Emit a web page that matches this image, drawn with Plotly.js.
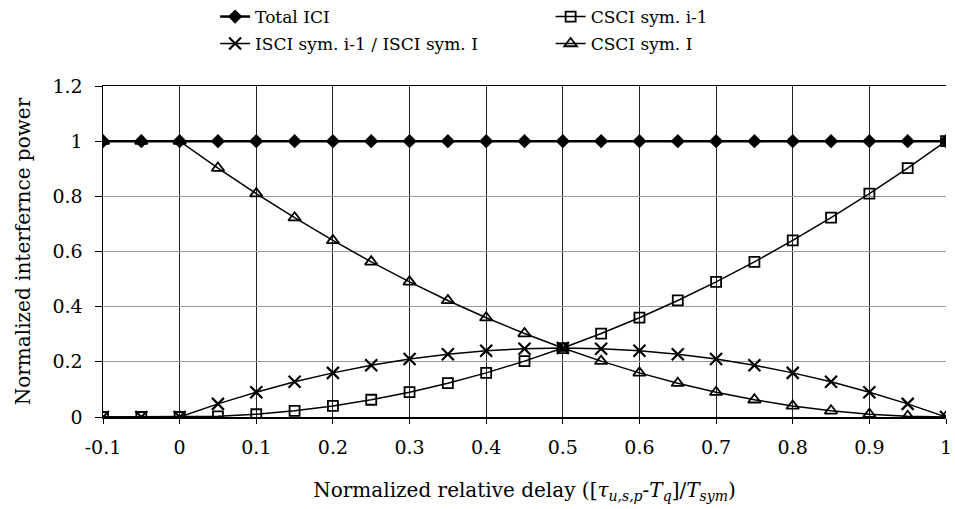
<!DOCTYPE html>
<html><head><meta charset="utf-8">
<script src="https://cdn.plot.ly/plotly-3.0.1.min.js"></script>
<style>html,body{margin:0;padding:0;background:#fff}#c{width:955px;height:509px}</style>
</head><body><div id="c"></div>
<script>
const xDelay = [-0.1,-0.05,0,0.05,0.1,0.15,0.2,0.25,0.3,0.35,0.4,0.45,0.5,0.55,0.6,0.65,0.7,0.75,0.8,0.85,0.9,0.95,1];
const totalICI = [1,1,1,1,1,1,1,1,1,1,1,1,1,1,1,1,1,1,1,1,1,1,1];
const csciPrev = [0,0,0,0.0025,0.01,0.0225,0.04,0.0625,0.09,0.1225,0.16,0.2025,0.25,0.3025,0.36,0.4225,0.49,0.5625,0.64,0.7225,0.81,0.9025,1];
const isci = [0,0,0,0.0475,0.09,0.1275,0.16,0.1875,0.21,0.2275,0.24,0.2475,0.25,0.2475,0.24,0.2275,0.21,0.1875,0.16,0.1275,0.09,0.0475,0];
const csciCur = [1,1,1,0.9025,0.81,0.7225,0.64,0.5625,0.49,0.4225,0.36,0.3025,0.25,0.2025,0.16,0.1225,0.09,0.0625,0.04,0.0225,0.01,0.0025,0];
const names = ["Total ICI","CSCI sym. i-1","ISCI sym. i-1 / ISCI sym. I","CSCI sym. I"];
const xTicks = [-0.1,0,0.1,0.2,0.3,0.4,0.5,0.6,0.7,0.8,0.9,1];
const yTicks = [0,0.2,0.4,0.6,0.8,1,1.2];

const F = "DejaVu Serif, Liberation Serif, serif";
const traces = [
  {x:xDelay,y:totalICI,name:names[0],legend:"legend",mode:"lines+markers",line:{color:"#000",width:2.5},marker:{symbol:"diamond",size:11,color:"#000"}},
  {x:xDelay,y:csciPrev,name:names[1],legend:"legend2",mode:"lines+markers",line:{color:"#000",width:1.5},marker:{symbol:"square-open",size:10,color:"#000",line:{width:1.8}}},
  {x:xDelay,y:isci,name:names[2],legend:"legend3",mode:"lines+markers",line:{color:"#000",width:1.5},marker:{symbol:"x-thin-open",size:12,color:"#000",line:{width:2.2}}},
  {x:xDelay,y:csciCur,name:names[3],legend:"legend4",mode:"lines+markers",line:{color:"#000",width:1.5},marker:{symbol:"triangle-up-open",size:11,color:"#000",line:{width:1.8}}}
];
function leg(x,y){return {x:x,y:y,xanchor:"left",yanchor:"middle",bgcolor:"rgba(0,0,0,0)",font:{family:F,size:17,color:"#000"}};}
const layout = {
  width:955,height:509,
  margin:{l:103,r:9,t:86,b:92,autoexpand:false},
  paper_bgcolor:"#fff",plot_bgcolor:"#fff",
  font:{family:F,size:19,color:"#000"},
  showlegend:true,
  legend:leg(0.133,1.2085),
  legend2:leg(0.531,1.2085),
  legend3:leg(0.133,1.127),
  legend4:leg(0.531,1.127),
  xaxis:{range:[-0.1,1],tickvals:xTicks,ticktext:xTicks.map(String),showgrid:true,gridcolor:"#222",gridwidth:1,
    showline:true,linecolor:"#000",linewidth:1.5,mirror:true,ticks:"outside",ticklen:5,tickcolor:"#000",zeroline:false,
    ticklabelstandoff:8,tickfont:{family:F,size:19},
    title:{text:"Normalized relative delay ([<i>τ</i><sub><i>u,s,p</i></sub>-<i>T</i><sub><i>q</i></sub>]/<i>T</i><sub><i>sym</i></sub>)",font:{family:F,size:20},standoff:25}},
  yaxis:{range:[0,1.2],tickvals:yTicks,ticktext:yTicks.map(String),showgrid:true,gridcolor:"#999",gridwidth:1,
    showline:true,linecolor:"#000",linewidth:1.5,ticks:"outside",ticklen:7,tickcolor:"#000",zeroline:false,
    ticklabelstandoff:8,tickfont:{family:F,size:19},
    title:{text:"Normalized interfernce power",font:{family:F,size:20},standoff:16}}
};
Plotly.newPlot("c",traces,layout,{displayModeBar:false,staticPlot:true});
</script></body></html>
